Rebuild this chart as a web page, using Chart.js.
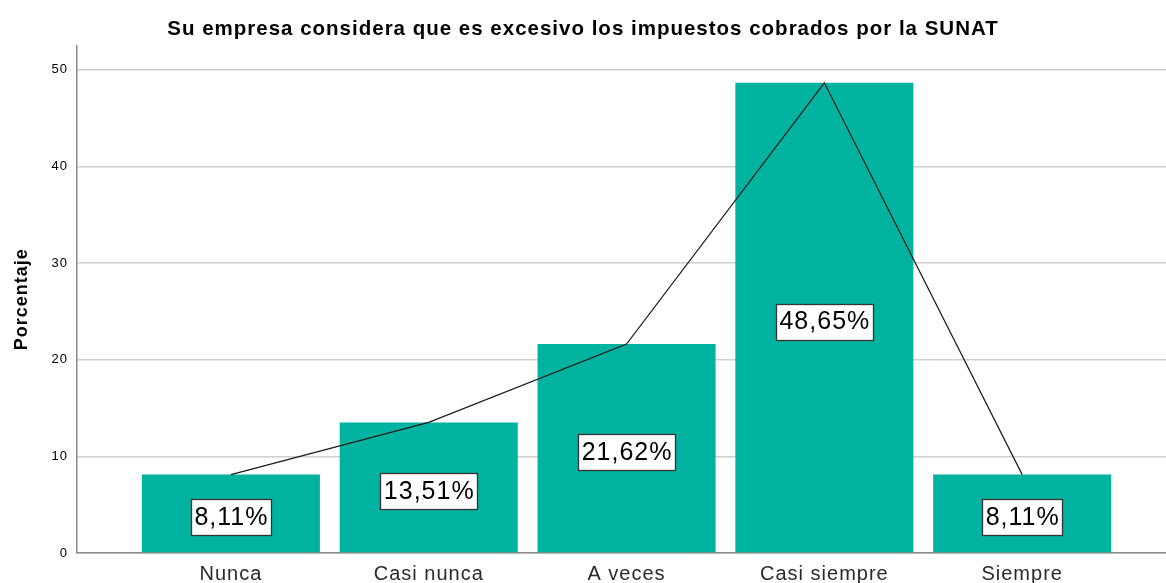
<!DOCTYPE html>
<html>
<head>
<meta charset="utf-8">
<script src="https://cdn.jsdelivr.net/npm/chart.js@4"></script>
<style>
  html, body { margin: 0; padding: 0; background: #fff; }
  #wrap { width: 1166px; height: 583px; overflow: hidden; }
</style>
</head>
<body>
<div id="wrap"><canvas id="chart" width="1166" height="583"></canvas></div>
<script>
// Datos del gráfico
const categorias = ['Nunca', 'Casi nunca', 'A veces', 'Casi siempre', 'Siempre'];
const porcentajes = [8.11, 13.51, 21.62, 48.65, 8.11];
const etiquetas = ['8,11%', '13,51%', '21,62%', '48,65%', '8,11%'];
const ticksY = [0, 10, 20, 30, 40, 50];

const FONT = '"Liberation Sans", Arial, sans-serif';

// Posición de cada categoría en el eje x (1..5)
const puntos = porcentajes.map((v, i) => ({ x: i + 1, y: v }));

// Espaciado de letras un poco más ancho, como en la salida original
const espaciado = {
    id: 'espaciado',
    beforeLayout(chart) { chart.ctx.letterSpacing = '1px'; },
    beforeDraw(chart) { chart.ctx.letterSpacing = '1px'; }
};

// Etiquetas blancas con borde en el centro de cada barra
const etiquetasBarras = {
    id: 'etiquetasBarras',
    afterDatasetsDraw(chart) {
        const ctx = chart.ctx;
        const meta = chart.getDatasetMeta(0);
        ctx.save();
        ctx.font = '25px ' + FONT;
        ctx.textAlign = 'center';
        ctx.textBaseline = 'middle';
        meta.data.forEach((bar, i) => {
            const texto = etiquetas[i];
            const cx = bar.x;
            const cy = (bar.y + bar.base) / 2 + 4;
            const w = ctx.measureText(texto).width + 6;
            const h = 36;
            const x0 = Math.round(cx - w / 2) + 0.5;
            const y0 = Math.round(cy - h / 2) + 0.5;
            ctx.fillStyle = '#ffffff';
            ctx.fillRect(x0, y0, Math.round(w), h);
            ctx.strokeStyle = '#333';
            ctx.lineWidth = 1.3;
            ctx.strokeRect(x0, y0, Math.round(w), h);
            ctx.fillStyle = '#000';
            ctx.fillText(texto, cx + 0.5, cy + 1);
        });
        ctx.restore();
    }
};

new Chart(document.getElementById('chart'), {
    data: {
        datasets: [
            {
                type: 'bar',
                data: puntos,
                backgroundColor: '#00b3a1',
                barPercentage: 0.9,
                categoryPercentage: 1.0,
                order: 2
            },
            {
                type: 'line',
                data: puntos,
                borderColor: '#1a1a1a',
                borderWidth: 1.2,
                pointRadius: 0,
                tension: 0,
                fill: false,
                order: 1
            }
        ]
    },
    options: {
        responsive: false,
        animation: false,
        layout: { padding: { left: 0, right: 0, top: 0, bottom: 0 } },
        plugins: {
            legend: { display: false },
            tooltip: { enabled: false },
            title: {
                display: true,
                text: 'Su empresa considera que es excesivo los impuestos cobrados por la SUNAT',
                color: '#000',
                font: { family: FONT, size: 20.5, weight: 'bold' },
                padding: { top: 17, bottom: 4 }
            }
        },
        scales: {
            x: {
                type: 'linear',
                bounds: 'data',
                offset: false,
                min: 0.222,
                max: 5.727,
                afterBuildTicks(scale) {
                    scale.ticks = categorias.map((c, i) => ({ value: i + 1 }));
                },
                afterFit(scale) { scale.height = 30; },
                ticks: {
                    color: '#2a2a2a',
                    font: { family: FONT, size: 20 },
                    padding: 9,
                    maxRotation: 0,
                    autoSkip: false,
                    callback: (v) => categorias[v - 1]
                },
                grid: { display: false, drawTicks: false, offset: false },
                border: { display: true, color: '#8a8a8a', width: 1.5 }
            },
            y: {
                min: 0,
                max: 52.5,
                afterBuildTicks(scale) {
                    scale.ticks = ticksY.map(v => ({ value: v }));
                },
                afterFit(scale) { scale.width = 77; },
                ticks: {
                    color: '#000',
                    font: { family: FONT, size: 13 },
                    padding: 9
                },
                grid: { color: '#cfcfcf', lineWidth: 1.5, drawTicks: false },
                border: { display: true, color: '#8a8a8a', width: 1.5 },
                title: {
                    display: true,
                    text: 'Porcentaje',
                    color: '#000',
                    font: { family: FONT, size: 18, weight: 'bold' },
                    padding: { top: 11, bottom: 0 }
                }
            }
        }
    },
    plugins: [espaciado, etiquetasBarras]
});
</script>
</body>
</html>
